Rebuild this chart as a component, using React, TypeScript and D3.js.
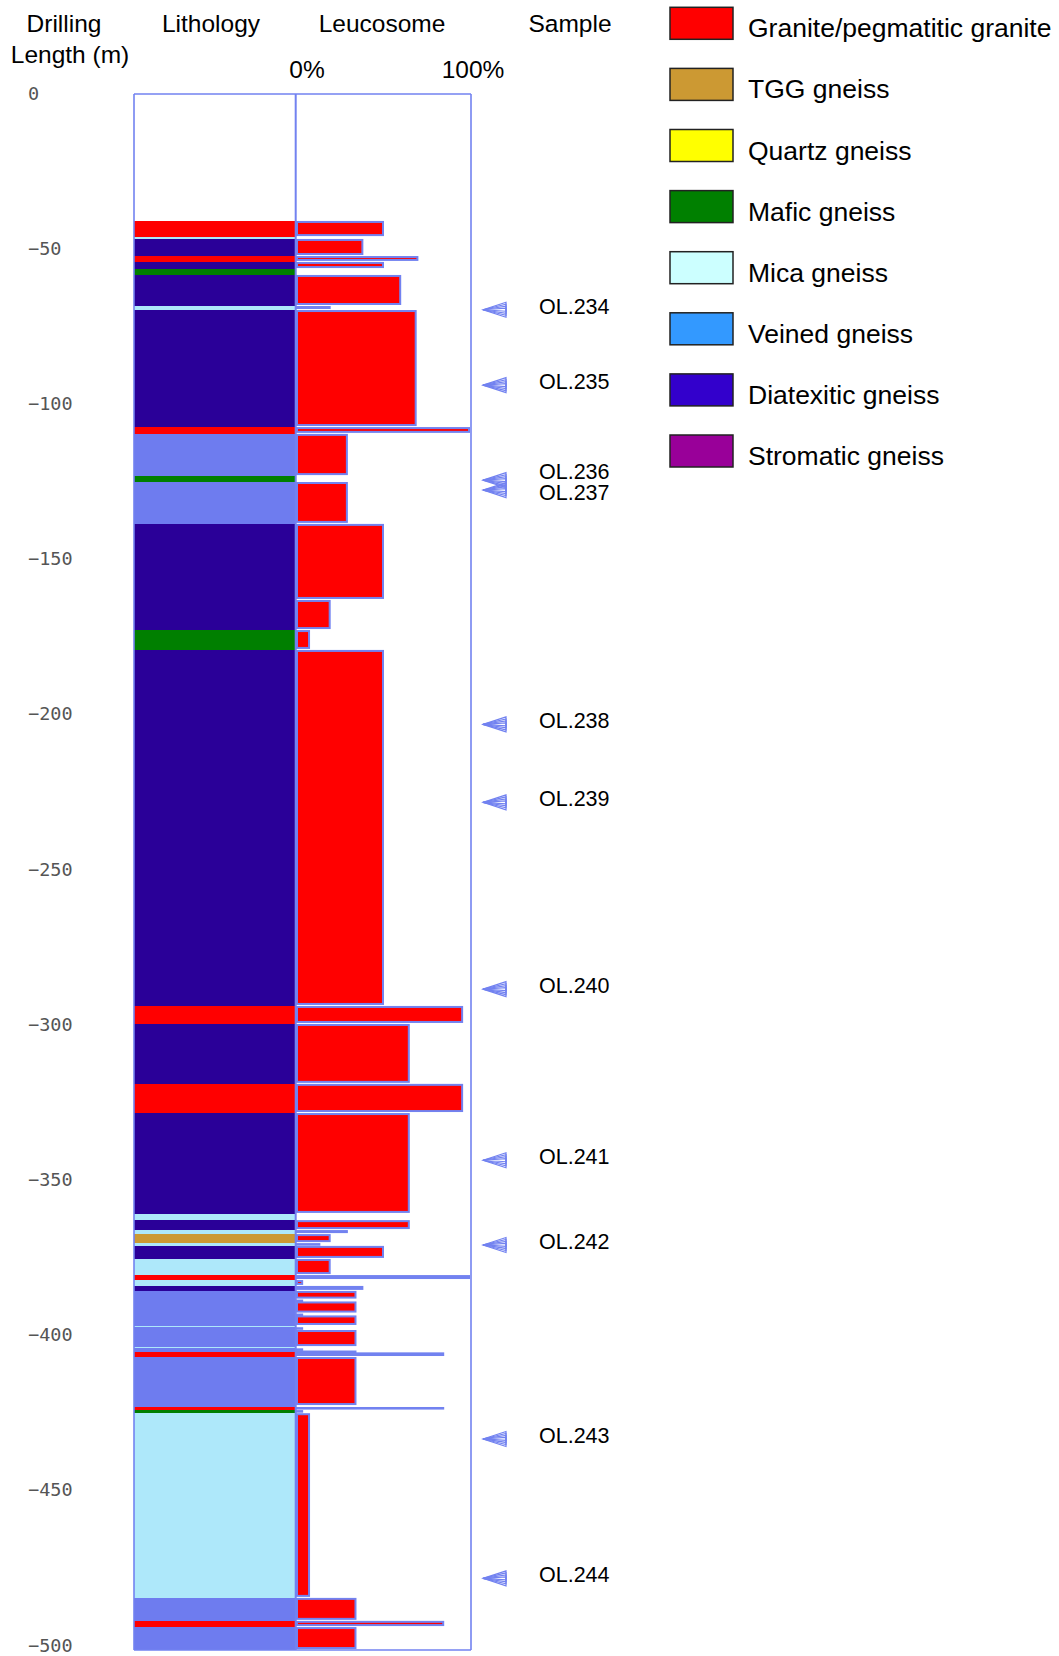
import React from "react";
import * as d3 from "d3";

// ---------- data ----------
const rockCodes = ["G", "T", "Q", "M", "Mi", "V", "D", "S"];
const rockNames = [
  "Granite/pegmatitic granite",
  "TGG gneiss",
  "Quartz gneiss",
  "Mafic gneiss",
  "Mica gneiss",
  "Veined gneiss",
  "Diatexitic gneiss",
  "Stromatic gneiss",
];

// interval tops / bottoms (m drilling length), rock code, leucosome %
const intervalTop = [
  40.9, 46.1, 46.7, 52.2, 54.1, 56.4, 58.3, 68.3, 69.6, 107.3, 109.5, 123.1, 125.0, 138.5, 163.0,
  172.7, 179.1, 293.8, 299.6, 318.9, 328.3, 360.8, 362.8, 366.0, 367.3, 370.2, 371.1, 375.3, 380.5,
  382.1, 384.0, 385.6, 388.4, 389.0, 392.9, 393.5, 396.9, 397.3, 398.2, 403.7, 404.1, 404.8, 405.4,
  406.9, 422.7, 423.0, 424.0, 425.0, 484.5, 491.9, 493.9,
];
const intervalBottom = [
  46.1, 46.7, 52.2, 54.1, 56.4, 58.3, 68.3, 69.6, 107.3, 109.5, 123.1, 125.0, 138.5, 163.0, 172.7,
  179.1, 293.8, 299.6, 318.9, 328.3, 360.8, 362.8, 366.0, 367.3, 370.2, 371.1, 375.3, 380.5, 382.1,
  384.0, 385.6, 388.4, 389.0, 392.9, 393.5, 396.9, 397.3, 398.2, 403.7, 404.1, 404.8, 405.4, 406.9,
  422.7, 423.0, 424.0, 425.0, 484.5, 491.9, 493.9, 501.3,
];
const intervalRock = [
  "G", "Mi", "D", "G", "D", "M", "D", "Mi", "D", "G", "V", "M", "V", "D", "D",
  "M", "D", "G", "D", "G", "D", "Mi", "D", "Mi", "T", "Mi", "D", "Mi", "G",
  "Mi", "D", "V", "V", "V", "V", "V", "Mi", "V", "V", "Mi", "V", "V", "G",
  "V", "V", "G", "M", "Mi", "V", "G", "V",
];
const leucosomePct = [
  50, 0, 38, 70, 50, 0, 60, 19, 69, 100, 29, 0, 29, 50, 19,
  7, 50, 96, 65, 96, 65, 0, 65, 29, 19, 13, 50, 19, 100,
  3, 38, 34, 3, 34, 3, 34, 0, 3, 34, 0, 3, 34, 85,
  34, 0, 85, 3, 7, 34, 85, 34,
];

const sampleIds = ["OL.234", "OL.235", "OL.236", "OL.237", "OL.238", "OL.239", "OL.240", "OL.241", "OL.242", "OL.243", "OL.244"];
const sampleDepth = [69.5, 93.8, 124.4, 127.6, 203.1, 228.2, 288.4, 343.5, 370.8, 433.3, 478.2];

const depthTicks = [0, 50, 100, 150, 200, 250, 300, 350, 400, 450, 500];
const depthMax = 501.3;

// ---------- styles ----------
const columnColor: Record<string, string> = {
  G: "#ff0000",
  T: "#cc9933",
  Q: "#ffff00",
  M: "#007f00",
  Mi: "#aee8fa",
  V: "#6e7cef",
  D: "#2a0098",
  S: "#990099",
};
const legendColor: Record<string, string> = {
  G: "#ff0000",
  T: "#cc9933",
  Q: "#ffff00",
  M: "#008000",
  Mi: "#ccffff",
  V: "#3399ff",
  D: "#3300cc",
  S: "#990099",
};
const LINE = "#7282f0";
const SANS = "'Liberation Sans', Arial, sans-serif";

export default function App() {
  const W = 1059;
  const H = 1656;
  const y = d3.scaleLinear().domain([0, 500]).range([94, 1646]);
  const xL = d3.scaleLinear().domain([0, 100]).range([297, 469]);
  const lithoX0 = 134;
  const lithoX1 = 296;
  const frameR = 471;

  const intervals = intervalTop.map((t, i) => ({
    top: t,
    bottom: intervalBottom[i],
    rock: intervalRock[i],
    leuco: leucosomePct[i],
  }));

  // sample label positions with collision spreading
  const arrowY = sampleDepth.map((d) => y(d));
  const labelY = arrowY.slice();
  for (let i = 1; i < labelY.length; i++) {
    if (labelY[i] - labelY[i - 1] < 21) {
      const mid = (labelY[i] + labelY[i - 1]) / 2;
      labelY[i - 1] = mid - 10.5;
      labelY[i] = mid + 10.5;
    }
  }
  const halfHeights = [7.5, 5.5, 3.5, 1.5];

  return (
    <svg
      width={W}
      height={H}
      style={{ position: "absolute", left: 0, top: 0, background: "#fff" }}
      xmlns="http://www.w3.org/2000/svg"
    >
      {/* headers */}
      <g fontFamily={SANS} fontSize={24.5} fill="#000" textAnchor="middle">
        <text x={64} y={32}>Drilling</text>
        <text x={70} y={63}>Length (m)</text>
        <text x={211} y={32}>Lithology</text>
        <text x={382} y={32}>Leucosome</text>
        <text x={570} y={32}>Sample</text>
        <text x={xL(0) + 10} y={78}>0%</text>
        <text x={xL(100) + 4} y={78}>100%</text>
      </g>

      {/* depth ticks */}
      <g fontFamily="'DejaVu Sans Mono', monospace" fontSize={18.5} fill="#555">
        {depthTicks.map((d) => (
          <text key={d} x={28} y={y(d) - 1} dy="0.36em">
            {d === 0 ? "0" : "\u2212" + d}
          </text>
        ))}
      </g>

      {/* lithology column */}
      <g shapeRendering="crispEdges">
        {intervals.map((iv, i) => (
          <rect
            key={"l" + i}
            x={lithoX0}
            y={y(iv.top)}
            width={lithoX1 - lithoX0}
            height={Math.max(y(iv.bottom) - y(iv.top), 1)}
            fill={columnColor[iv.rock]}
          />
        ))}
      </g>

      {/* frame */}
      <g stroke={LINE} strokeWidth={1.6} fill="none">
        <line x1={lithoX0} x2={frameR} y1={y(0)} y2={y(0)} />
        <line x1={lithoX0} x2={frameR} y1={y(depthMax)} y2={y(depthMax)} />
        <line x1={lithoX0} x2={lithoX0} y1={y(0)} y2={y(depthMax)} />
        <line x1={frameR} x2={frameR} y1={y(0)} y2={y(depthMax)} />
        <line x1={295.7} x2={295.7} y1={y(0)} y2={y(depthMax)} strokeWidth={2} />
      </g>

      {/* leucosome bars */}
      <g>
        {intervals
          .filter((iv) => iv.leuco > 0)
          .map((iv, i) => {
            const y0 = y(iv.top) + 1;
            const h = Math.max(y(iv.bottom) - y(iv.top) - 3, 0.6);
            return (
              <rect
                key={"b" + i}
                x={xL(0)}
                y={y0}
                width={xL(iv.leuco) - xL(0)}
                height={h}
                fill="#ff0000"
                stroke={LINE}
                strokeWidth={2}
              />
            );
          })}
      </g>

      {/* sample arrows and labels */}
      <g>
        {sampleIds.map((id, i) => (
          <g key={id}>
            {halfHeights.map((hh) => (
              <path
                key={hh}
                d={`M483,${arrowY[i]} L506,${arrowY[i] - hh} L506,${arrowY[i] + hh} Z`}
                fill="none"
                stroke={LINE}
                strokeWidth={1.2}
              />
            ))}
            <text x={539} y={labelY[i] + 4} fontFamily={SANS} fontSize={21.5} fill="#000">
              {id}
            </text>
          </g>
        ))}
      </g>

      {/* legend */}
      <g>
        {rockCodes.map((c, i) => {
          const sy = 7.3 + i * 61.1;
          return (
            <g key={c}>
              <rect x={670} y={sy} width={63} height={32} fill={legendColor[c]} stroke="#222" strokeWidth={1.5} />
              <text x={748} y={sy + 30} fontFamily={SANS} fontSize={26.5} fill="#000">
                {rockNames[i]}
              </text>
            </g>
          );
        })}
      </g>
    </svg>
  );
}
